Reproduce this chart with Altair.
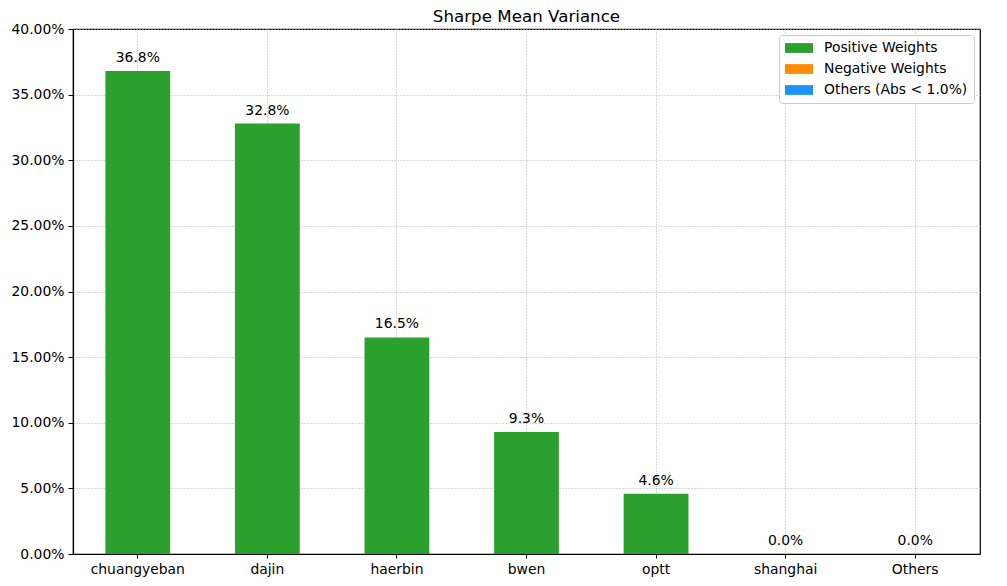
import altair as alt
import pandas as pd

assets = ["chuangyeban", "dajin", "haerbin", "bwen", "optt", "shanghai", "Others"]
weights = [0.368, 0.328, 0.165, 0.093, 0.046, 0.0, 0.0]
groups = ["Positive Weights"] * 7
legend_labels = ["Positive Weights", "Negative Weights", "Others (Abs < 1.0%)"]
legend_colors = ["#2ca02c", "#ff8c00", "#1e90ff"]
y_ticks = [0.0, 0.05, 0.10, 0.15, 0.20, 0.25, 0.30, 0.35, 0.40]

df = pd.DataFrame({"asset": assets, "weight": weights, "group": groups})

FONT = "DejaVu Sans"
FS = 13.9

x = alt.X("asset:N", sort=assets, title=None,
          scale=alt.Scale(paddingInner=0.5, paddingOuter=0.25),
          axis=alt.Axis(labelAngle=0, bandPosition=0.5, grid=True,
                        gridDash=[1, 2], gridColor="#b0b0b0",
                        tickColor="black", domainColor="black",
                        labelFontSize=FS, labelColor="black", labelPadding=4,
                        tickSize=4))
y = alt.Y("weight:Q", title=None,
          scale=alt.Scale(domain=[0, 0.4], nice=False),
          axis=alt.Axis(format=".2%", values=y_ticks, grid=True,
                        gridDash=[1, 2], gridColor="#b0b0b0",
                        tickColor="black", domainColor="black",
                        labelFontSize=FS, labelColor="black", labelPadding=4,
                        tickSize=5))

bars = alt.Chart(df).mark_bar().encode(
    x=x, y=y,
    color=alt.Color("group:N",
                    scale=alt.Scale(domain=legend_labels, range=legend_colors),
                    legend=alt.Legend(title=None, orient="top-right", offset=6,
                                      symbolType="M-2,-0.7L2,-0.7L2,0.7L-2,0.7Z",
                                      symbolSize=196, symbolStrokeWidth=0,
                                      symbolOffset=7,
                                      labelFontSize=FS, labelColor="black",
                                      labelOffset=18,
                                      strokeColor="#cccccc", fillColor="white",
                                      cornerRadius=3, padding=6, rowPadding=7)),
)

labels = alt.Chart(df).mark_text(baseline="bottom", dy=-6, fontSize=FS,
                                 color="black", font=FONT).encode(
    x=alt.X("asset:N", sort=assets),
    y="weight:Q",
    text=alt.Text("weight:Q", format=".1%"),
)

chart = (bars + labels).properties(
    width=907, height=525,
    title=alt.TitleParams("Sharpe Mean Variance", fontSize=16.7, fontWeight="normal",
                          font=FONT, color="black", offset=-4),
    padding={"left": 3, "top": 1, "right": 5, "bottom": 5},
).configure(font=FONT).configure_view(stroke="black", strokeWidth=1.2).configure_axis(
    labelFont=FONT, domainWidth=1.2)

chart.save("out.html", embed_options={"renderer": "svg", "actions": False})
